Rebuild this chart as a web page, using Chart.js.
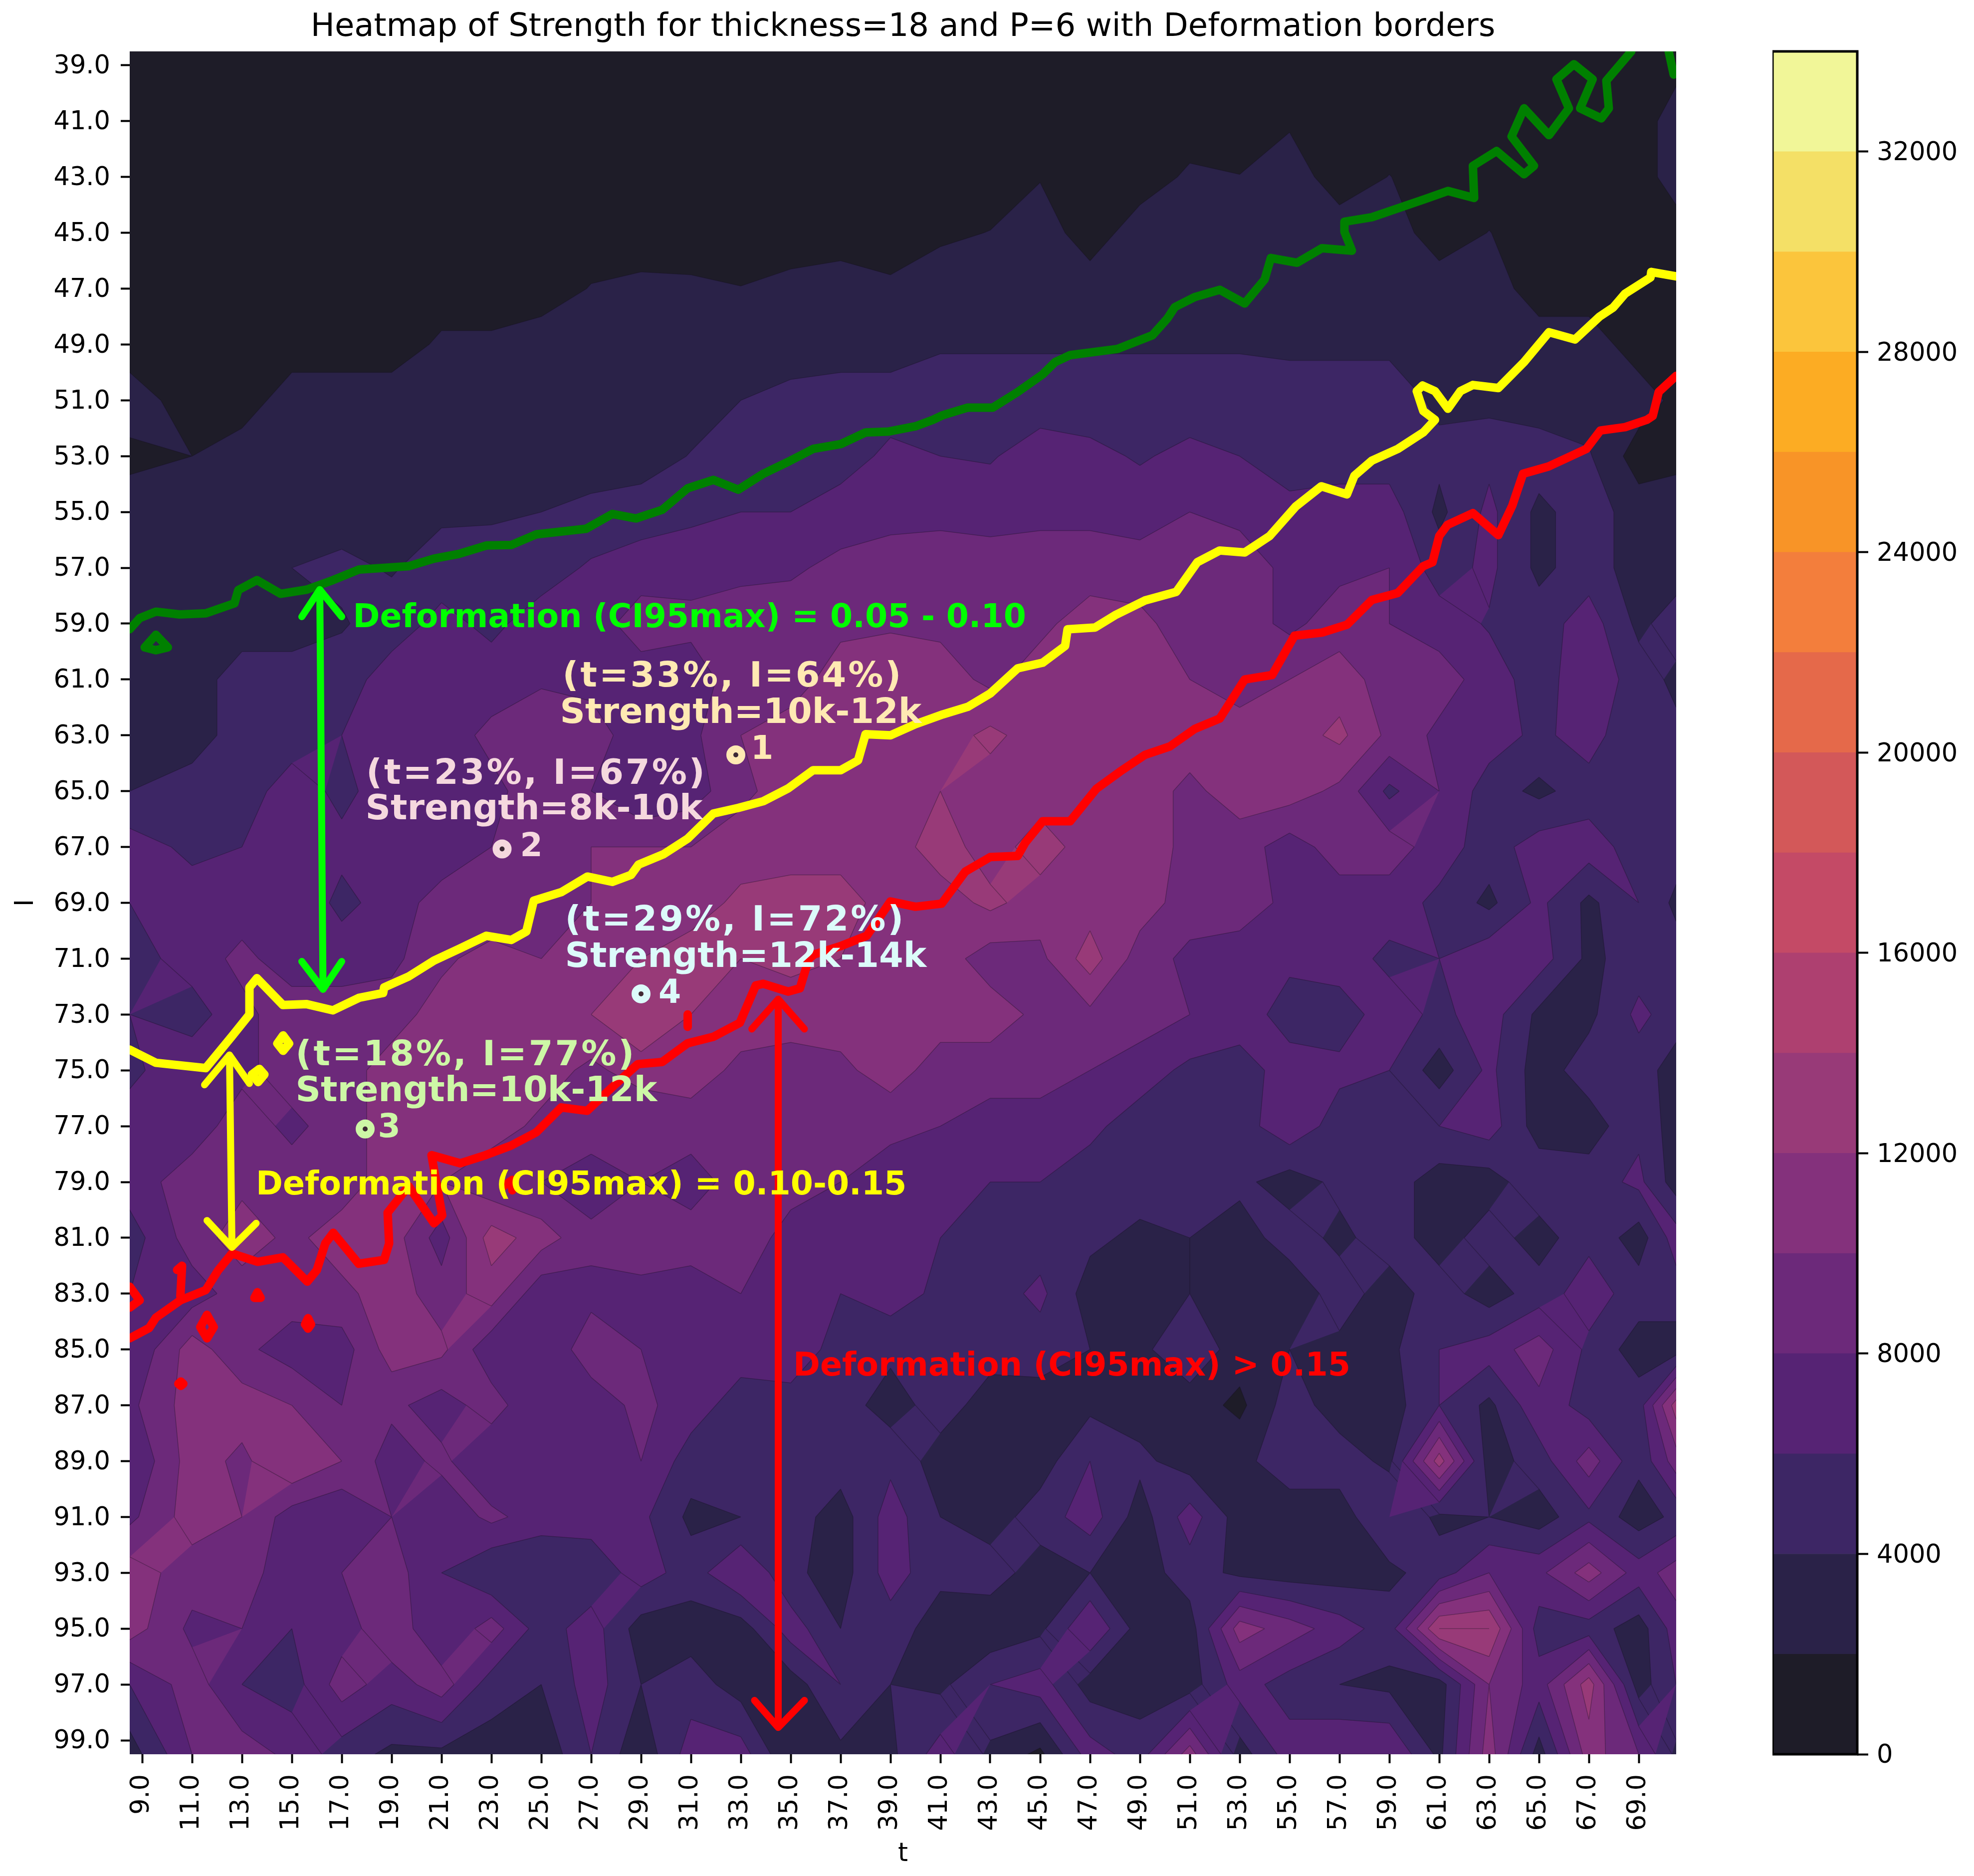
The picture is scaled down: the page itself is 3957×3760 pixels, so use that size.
<!DOCTYPE html>
<html lang="en">
<head>
  <meta charset="UTF-8" />
  <title>Heatmap of Strength</title>
  <script src="https://cdn.jsdelivr.net/npm/chart.js"></script>
  <style>
    html, body { margin: 0; background: #fff; }
    #wrap { position: relative; width: 3957px; height: 3760px; overflow: hidden; }
    canvas { position: absolute; top: 0; }
    #heat { left: 0; }
    #bar { left: 3553px; }
  </style>
</head>
<body>
  <div id="wrap">
    <canvas id="heat" width="3957" height="3760"></canvas>
    <canvas id="bar" width="404" height="3760"></canvas>
  </div>

  <script>
    // grid nodes, strength in thousands
    const tNodes = [8.5, 11, 13, 15, 17, 19, 21, 23, 25, 27, 29, 31, 33, 35, 37, 39, 41, 43, 45, 47, 49, 51, 53, 55, 57, 59, 61, 63, 65, 67, 69, 70.5];
    const iNodes = [38.5, 41, 43, 45, 47, 49, 51, 53, 55, 57, 59, 61, 63, 65, 67, 69, 71, 73, 75, 77, 79, 81, 83, 85, 87, 89, 91, 93, 95, 97, 99.5];

    const row39 = [1,1,1,1,1,1,1,1,1,1,1,1,1,1,1,1,1,1,1,1,1,1,1,1,1,1,1,1,1,1,1,1];
    const row41 = [1,1,1,1,1,1,1,1,1,1,1,1,1,1,1,1,1,1,1,1,1,1,1,1.75,1,1,1,1,1,1,1,3];
    const row43 = [1,1,1,1,1,1,1,1,1,1,1,1,1,1,1,1,1,1,1.89,1,1,2.33,2.05,3,1,2.05,1,1,1,1,1,3];
    const row45 = [1,1,1,1,1,1,1,1,1,1,1,1,1,1,1,1,1.67,2.05,3,1,3,3,3,3,3,3,1,2.05,1,1,1,1];
    const row47 = [1,1,1,1,1,1,1,1,1,2.1,2.43,2.33,2.05,2.54,3,2.33,3,3,3,3,3,3,3,3,3,3,3,3,1,1,1,1];
    const row49 = [1,1,1,1,1,1,2.33,2.33,3,3,3,3,3,3,3,3,3.8,3.8,3.8,3.8,3.8,3.8,3.8,3.6,3.6,3.6,3.6,3,3,3,1,1];
    const row51 = [3,1,1,3,3,3,3,3,3,3,3,3,4,4.6,5,5,5,5,5,5,5,5,5,5,5,5,3.6,3.3,3,3,3,1.5];
    const row53 = [1.5,2,3,2,3,3,3,3,3,3,3,4.1,5,5,5,6.5,6,5.8,7,6.5,5.8,6.5,6,5,5,5,4.5,5.5,5,4.2,1,1.5];
    const row55 = [3,3,3,3,3,3,3.6,3.7,4,4.5,5,5.5,6,6,7,7.3,7.5,7.2,7.5,7.5,7,8,7.5,6.6,7,7,3.5,6.5,3.5,5,3,3];
    const row57 = [3,3,3,4,4.5,3.8,5,5,5,6.3,7,7.3,7.5,7.7,8.5,9,9,9,9,9,9,8.2,9,7.5,7.5,8,5,6.5,3.5,5,3,3];
    const row59 = [3,3,3,3,3.8,5,6.6,5.5,7,7,9,8.5,9,9,9.5,9.8,9.5,9,9.5,11,10.5,9,9,7.5,9,8,7,5.8,5,7,3.5,5];
    const row61 = [3,3,5,5,5,7,7,7,7.8,7.5,7,7,9,9,11,11,11,9.5,11,11,11,10,9,10,11,9,9,7,5,7.5,5,3.5];
    const row63 = [3,3,5,5,6,6,7,8.5,9,8.8,7,7.5,10,11,11,11,11,12.5,11,11,11,11,11,11,12.5,9.5,7.5,7,5.5,7,4,4.5];
    const row65 = [4,5,5,7,5.5,7,7,7.5,9,8,6,7,9.5,11,11,11,12,11,11,11,11,9.5,11,11,9.5,5.5,8,5,3.5,5,5,5];
    const row67 = [7,5.5,6,7,6.5,7.5,6.5,8,9,10,10,10,11,11,11,11,13,11,13,11,11,9.5,9,7,9,9,7,5,7,7,5,5];
    const row69 = [6,7,7,7.5,5.5,6.8,9,8,9,10,11,11,12.5,13,13,11,11,12.5,11,11,11,9,9,7.5,7,7,5.5,3.5,6.5,3.5,6,3.5];
    const row71 = [5,7,8.5,7,7,7.5,9.5,11,10,11,12,13,12,12.5,12,11,11,9,9.5,13,9,7.5,7,6.5,7,5.5,6,7.5,7,3.5,5,5];
    const row73 = [6,5,7.5,9,9,9,11,11,11,12,14,12,11,11,11,11,11,11,9.5,9.5,9,8,7.2,5,5,7,5.5,7,3.5,3.5,6.5,5];
    const row75 = [5.5,7.5,7.5,9,9,11,10,11,11,9.5,11,11,9.5,9,9.5,11,9,9,9,8,7,5.5,5,7,6.5,6,3,6.5,3,5,5,3];
    const row77 = [7,7,9,7.5,9,11,11,11,9.5,9,8,9,9,9,9,8.5,8,7,7,6.5,5,5,5,7.5,5,5,6,7,3,3,5.5,3];
    const row79 = [7,9,9.5,9,9,11,10,8.5,8,7,8,7,9,9,8,7,7,6,6,5,5,5,4.5,3,4.5,5,3,3,5.5,5,6.5,3];
    const row81 = [5,9,11,9.5,11,11,7,13,11,8.5,10,9,9.5,7,7.5,6,6,5,5,4.5,3.5,4,3,5,3.5,5,3,5,3,5.5,3,7];
    const row83 = [6,7,9,9,9.5,11,9,11,6.5,7.5,7,7,8,7,6,7,5.5,5,6.5,3,3,4,3,2.5,5,3,5,3,5,7,5,5];
    const row85 = [6,11,8.5,7,7,11,10.5,6.5,6.5,9,8,6,7,7.5,5,4.5,5,4.8,5,4,3.5,5.5,3,4,3.5,3.5,6,7,9,5.5,3,3];
    const row87 = [7.5,11,11,10,8,8.5,7,9,6,7,8.5,7,5,5,5,3,5,3,3,3.5,3,3,1.5,5,3,3,6,3.5,7.5,5,5,13];
    const row89 = [6,11,9.5,12,10,7,8.5,6,6,7,8,5,5,5,5,5.5,3,3,3,6,4.5,3,3.5,5,5,3.5,13,3,5,9,4.5,9];
    const row91 = [7.5,11,10,7,6,8,6.5,8.5,7,7,6.5,3.5,4,5,3,7,4,3,5,7,3,7,3,3,3,6,3.5,4,3,5.5,3,4.5];
    const row93 = [11,9,9.5,6,8,9,6,4,4,4.5,7,5,8,4.5,3,7,4.5,5,3,4,3,5,3.5,3,3,3.5,5,8,7.5,11,7,9];
    const row95 = [11,7.5,8,6,7,9.5,6,9,5,7,3,3,3,7,4,5,3,2.5,3.5,8,3,3,11,9,7,5,14,14,5,5,3,7];
    const row97 = [6,9,6,5,9,7,9,5,4,7,4,5,3,3,6,4,3.5,6,7,3,3,3,7,5,4,3.5,3,10,7,13,3,6];
    const row99 = [3,8,9,7.5,5,3.5,3.5,3,2.5,6,2.5,7,7,2,3.5,3.5,7,3.5,1.5,7,5,11,3,7,8,8,3.5,11,3,11,8,3.5];
    const strengthRows = [row39, row41, row43, row45, row47, row49, row51, row53, row55, row57, row59, row61, row63, row65, row67, row69, row71, row73, row75, row77, row79, row81, row83, row85, row87, row89, row91, row93, row95, row97, row99];

    const levels = [0, 2, 4, 6, 8, 10, 12, 14, 16, 18, 20, 22, 24, 26, 28, 30, 32, 34];
    const bandColors = ['#1e1c28', '#2a2248', '#3d2665', '#562374', '#6c297a', '#84317c', '#983a78', '#ae4070', '#c44a66', '#d35859', '#e5694a', '#f37e3c', '#f89427', '#fcac23', '#fbc53c', '#f4e066', '#f1f698'];

    const tTicks = [9, 11, 13, 15, 17, 19, 21, 23, 25, 27, 29, 31, 33, 35, 37, 39, 41, 43, 45, 47, 49, 51, 53, 55, 57, 59, 61, 63, 65, 67, 69];
    const iTicks = [39, 41, 43, 45, 47, 49, 51, 53, 55, 57, 59, 61, 63, 65, 67, 69, 71, 73, 75, 77, 79, 81, 83, 85, 87, 89, 91, 93, 95, 97, 99];
    const barTicks = [0, 4000, 8000, 12000, 16000, 20000, 24000, 28000, 32000];

    // deformation borders
    const greenT = [8.5,8.9,9.55,10.5,11.55,12.7,12.85,13.6,14.55,15.6,16.65,17.7,19.7,20.7,21.7,22.8,23.8,24.8,26.8,27.85,28.8,29.85,30.87,31.9,32.9,33.9,34.9,35.9,37,38,38.9,40,40.7,41.1,42.1,43.1,44.1,45.1,45.6,46.2,48.1,49.5,50.1,50.4,51.2,52.2,53.2,54,54.25,55.3,56.3,57.5,57.2,57.2,58.3,60.4,61.35,62.4,62.35,63.3,64,64.4,64.8,63.9,64.4,65.4,66.2,65.7,66.4,67.15,66.65,67.5,67.8,67.7,68.7];
    const greenI = [59.2,58.8,58.57,58.67,58.63,58.27,57.8,57.44,57.93,57.78,57.44,57.06,56.94,56.67,56.5,56.2,56.18,55.8,55.6,55.07,55.23,54.92,54.15,53.85,54.2,53.63,53.2,52.74,52.57,52.15,52.12,51.93,51.7,51.53,51.26,51.26,50.7,50.07,49.63,49.38,49.16,48.67,48.07,47.66,47.3,47.04,47.53,46.67,45.9,46.07,45.55,45.64,44.96,44.6,44.44,43.8,43.5,43.75,42.6,42.07,42.6,42.9,42.6,41.55,40.54,41.5,40.54,39.5,38.96,39.5,40.54,40.9,40.54,39.55,38.5];
    const greenCornerT = [70.2, 70.4];
    const greenCornerI = [38.5, 39.33];
    const greenLoopT = [9.55, 9.1, 9.55, 10.03, 9.55];
    const greenLoopI = [59.4, 59.85, 59.95, 59.85, 59.4];

    const yellowT = [8.5,9.55,11.55,12.6,13.3,13.3,13.6,14.64,15.6,16.65,17.7,18.66,18.7,19.7,20.7,21.75,22.8,23.8,24.4,24.7,25.8,26.85,27.85,28.6,28.9,29.9,30.87,31.9,32.9,33.9,34.9,35.9,37,37.7,38,39,40,41.1,42.1,43,44.1,45.1,46,46.1,47.2,48,49.2,50.46,51.3,52.2,53.2,54.2,55.25,56.27,57.3,57.6,58.3,59.34,60.36,60.83,60.36,60.1,60.33,60.83,61.35,61.85,62.35,63.37,64.4,65.4,66.44,67.43,67.98,68.45,69.47,69.5,70.5];
    const yellowI = [74.26,74.73,74.92,73.78,73,72.03,71.7,72.66,72.63,72.85,72.4,72.23,72.03,71.63,71.07,70.63,70.18,70.33,70.03,68.92,68.62,68.06,68.25,68,67.63,67.26,66.7,65.8,65.6,65.36,64.9,64.25,64.25,63.9,62.96,63,62.6,62.25,61.98,61.5,60.6,60.4,59.8,59.2,59.14,58.7,58.17,57.86,56.8,56.38,56.45,55.86,54.8,54.08,54.37,53.7,53.16,52.74,52.15,51.7,51.38,50.67,50.47,50.67,51.3,50.67,50.45,50.56,49.63,48.56,48.82,48,47.67,47.18,46.6,46.4,46.56];
    const yellowSpotAT = [14.65, 14.89, 14.65, 14.42, 14.65];
    const yellowSpotAI = [73.75, 74.04, 74.3, 74.04, 73.75];
    const yellowSpotBT = [13.7, 13.9, 13.65, 13.4, 13.7];
    const yellowSpotBI = [74.95, 75.15, 75.42, 75.15, 74.95];

    const redT = [8.5,9.28,9.55,10.53,11.55,12.05,12.6,13.62,14.64,15.62,16,16.34,16.66,17.68,18.7,18.9,18.84,19.68,20.7,21.03,20.6,21.75,22.76,23.78,24.8,25.8,26.84,27.85,28.87,29.85,30.87,31.9,32.96,33.6,33.9,34.9,35.37,35.73,35.94,37,38.05,39,40,41.05,42,43,44.1,44.4,45.1,46.2,47.25,48.2,49.2,50.2,51.2,52.2,53.2,54.3,55.2,56.3,57.3,58.3,59.34,60.36,60.73,61,61.33,62.35,63.37,63.93,64.36,65.38,66.9,67.46,68.45,69.32,69.56,69.8,70.5];
    const redI = [84.6,84.23,83.86,83.24,82.87,82.16,81.56,81.86,81.7,82.57,82.16,81.2,80.82,81.93,81.79,81.2,80.1,79.15,80.48,80.2,78.04,78.33,78.04,77.7,77.22,76.33,76.45,75.6,74.78,74.7,74.03,73.8,73.3,71.96,71.9,72.18,72.06,71,70.85,70.55,70.18,68.95,69.14,69.03,67.88,67.36,67.32,66.85,66.08,66.08,64.92,64.3,63.7,63.4,62.77,62.4,61,60.84,59.43,59.32,59.04,58.15,57.9,56.94,56.8,55.86,55.46,55.04,55.83,54.77,53.63,53.37,52.74,52.08,51.96,51.7,51.56,50.7,50.12];
    const redBitsT = [[30.87, 30.87], [23.48, 23.84, 23.84], [10.4, 10.6, 10.53], [8.5, 8.9, 8.5], [11.6, 11.87, 11.6, 11.33, 11.6], [13.62, 13.75, 13.5, 13.62], [15.65, 15.77, 15.65, 15.53, 15.65], [10.55, 10.65, 10.55, 10.45, 10.55]];
    const redBitsI = [[73, 73.44], [79.15, 78.93, 79.3], [82.15, 82, 83.1], [82.75, 83.24, 83.5], [83.76, 84.2, 84.6, 84.2, 83.76], [82.95, 83.15, 83.15, 82.95], [83.88, 84.1, 84.25, 84.1, 83.88], [86.15, 86.23, 86.3, 86.23, 86.15]];

    // double headed arrows
    const greenArrowT = [15.4, 16.12, 17, 16.12, 16.25, 15.4, 16.25, 17];
    const greenArrowI = [58.75, 57.78, 58.75, 57.78, 72.1, 71.1, 72.1, 71.1];
    const yellowArrowT = [11.5, 12.5, 13.3, 12.5, 12.6, 11.6, 12.6, 13.57];
    const yellowArrowI = [75.52, 74.45, 75.47, 74.45, 81.34, 80.38, 81.34, 80.48];
    const redArrowT = [33.44, 34.5, 35.55, 34.5, 34.5, 33.55, 34.5, 35.55];
    const redArrowI = [73.52, 72.45, 73.52, 72.45, 98.54, 97.57, 98.54, 97.57];

    // marked specimens
    const spotT = [32.8, 23.43, 17.94, 29];
    const spotI = [63.7, 67.07, 77.1, 72.26];
    const spotColors = ['#ffe9b3', '#f5d8de', '#cdf7a6', '#dcfbfa'];

    const noteTexts = ['Deformation (CI95max) = 0.05 - 0.10', '(t=33%, I=64%)', 'Strength=10k-12k', '1', '(t=23%, I=67%)', 'Strength=8k-10k', '2', '(t=29%, I=72%)', 'Strength=12k-14k', '4', '(t=18%, I=77%)', 'Strength=10k-12k', '3', 'Deformation (CI95max) = 0.10-0.15', 'Deformation (CI95max) > 0.15'];
    const noteT = [17.45, 25.85, 25.75, 33.4, 17.98, 17.95, 24.15, 25.95, 25.95, 29.7, 15.15, 15.15, 18.45, 13.56, 35.1];
    const noteI = [59.12, 61.26, 62.55, 63.85, 64.73, 66, 67.32, 70, 71.3, 72.58, 74.82, 76.1, 77.4, 79.45, 85.94];
    const noteColors = ['#00ff00', '#ffe9b3', '#ffe9b3', '#ffe9b3', '#f5d8de', '#f5d8de', '#f5d8de', '#dcfbfa', '#dcfbfa', '#dcfbfa', '#cdf7a6', '#cdf7a6', '#cdf7a6', '#ffff00', '#ff0000'];
    const noteSizes = [65, 70, 70, 65, 70, 70, 65, 70, 70, 65, 70, 70, 65, 65, 65];
    const noteSpacing = [0, 4, 0, 0, 4, 0, 0, 4, 0, 0, 4, 0, 0, 0, 0];

    Chart.defaults.font.family = '"DejaVu Sans"';
    Chart.defaults.color = '#000';

    function xy(ts, is) {
      return ts.map((t, k) => ({ x: t, y: is[k] }));
    }

    function borderLine(ts, is, color, width) {
      return {
        data: xy(ts, is),
        showLine: true,
        borderColor: color,
        borderWidth: width,
        borderCapStyle: 'round',
        borderJoinStyle: 'round',
        pointRadius: 0,
        tension: 0,
        clip: 0
      };
    }

    // keep the part of a cell where strength >= level
    function clipCell(nodes, level) {
      const out = [];
      nodes.forEach((a, k) => {
        const b = nodes[(k + 1) % nodes.length];
        if (a.v >= level) out.push(a);
        if ((a.v >= level) !== (b.v >= level)) {
          const f = (level - a.v) / (b.v - a.v);
          out.push({ x: a.x + (b.x - a.x) * f, y: a.y + (b.y - a.y) * f, v: level });
        }
      });
      return out;
    }

    function crossings(nodes, level) {
      const pts = [];
      nodes.forEach((a, k) => {
        const b = nodes[(k + 1) % nodes.length];
        if ((a.v >= level) !== (b.v >= level)) {
          const f = (level - a.v) / (b.v - a.v);
          pts.push([a.x + (b.x - a.x) * f, a.y + (b.y - a.y) * f]);
        }
      });
      return pts;
    }

    const contourPlugin = {
      id: 'contour',
      beforeDatasetsDraw(chart) {
        const { ctx, chartArea, scales } = chart;
        const px = tNodes.map(t => scales.x.getPixelForValue(t));
        const py = iNodes.map(i => scales.y.getPixelForValue(i));
        ctx.save();
        ctx.beginPath();
        ctx.rect(chartArea.left, chartArea.top, chartArea.width, chartArea.height);
        ctx.clip();
        bandColors.forEach((color, b) => {
          const fill = new Path2D();
          const edge = new Path2D();
          for (let r = 0; r < iNodes.length - 1; r++) {
            for (let c = 0; c < tNodes.length - 1; c++) {
              const nodes = [
                { x: px[c], y: py[r], v: strengthRows[r][c] },
                { x: px[c + 1], y: py[r], v: strengthRows[r][c + 1] },
                { x: px[c + 1], y: py[r + 1], v: strengthRows[r + 1][c + 1] },
                { x: px[c], y: py[r + 1], v: strengthRows[r + 1][c] }
              ];
              const poly = clipCell(nodes, levels[b]);
              if (poly.length < 3) continue;
              poly.forEach((p, k) => (k ? fill.lineTo(p.x, p.y) : fill.moveTo(p.x, p.y)));
              fill.closePath();
              const cross = crossings(nodes, levels[b]);
              for (let k = 0; k + 1 < cross.length; k += 2) {
                edge.moveTo(cross[k][0], cross[k][1]);
                edge.lineTo(cross[k + 1][0], cross[k + 1][1]);
              }
            }
          }
          ctx.fillStyle = color;
          ctx.fill(fill);
          ctx.strokeStyle = 'rgba(20,15,30,0.35)';
          ctx.lineWidth = 1.5;
          ctx.stroke(edge);
        });
        ctx.restore();
      }
    };

    const notesPlugin = {
      id: 'notes',
      afterDatasetsDraw(chart) {
        const { ctx, scales } = chart;
        ctx.save();
        ctx.textAlign = 'left';
        ctx.textBaseline = 'alphabetic';
        noteTexts.forEach((text, k) => {
          ctx.font = 'bold ' + noteSizes[k] + 'px "DejaVu Sans"';
          ctx.letterSpacing = noteSpacing[k] + 'px';
          ctx.fillStyle = noteColors[k];
          ctx.fillText(text, scales.x.getPixelForValue(noteT[k]), scales.y.getPixelForValue(noteI[k]));
        });
        ctx.restore();
      }
    };

    // first dataset ends up on top
    const heatDatasets = [];
    spotT.forEach((t, k) => {
      heatDatasets.push({
        data: [{ x: t, y: spotI[k] }],
        pointRadius: 12,
        pointBackgroundColor: 'rgba(50,40,40,0.85)',
        pointBorderColor: spotColors[k],
        pointBorderWidth: 14
      });
    });
    heatDatasets.push(borderLine(greenArrowT, greenArrowI, '#00ff00', 14));
    heatDatasets.push(borderLine(yellowArrowT, yellowArrowI, '#ffff00', 14));
    heatDatasets.push(borderLine(redArrowT, redArrowI, '#ff0000', 14));
    heatDatasets.push(borderLine(greenT, greenI, '#008000', 17));
    heatDatasets.push(borderLine(greenCornerT, greenCornerI, '#008000', 17));
    heatDatasets.push(borderLine(greenLoopT, greenLoopI, '#008000', 17));
    heatDatasets.push(borderLine(yellowT, yellowI, '#ffff00', 17));
    heatDatasets.push(borderLine(yellowSpotAT, yellowSpotAI, '#ffff00', 17));
    heatDatasets.push(borderLine(yellowSpotBT, yellowSpotBI, '#ffff00', 17));
    heatDatasets.push(borderLine(redT, redI, '#ff0000', 17));
    redBitsT.forEach((ts, k) => heatDatasets.push(borderLine(ts, redBitsI[k], '#ff0000', 17)));

    new Chart(document.getElementById('heat'), {
      type: 'scatter',
      data: { datasets: heatDatasets },
      plugins: [contourPlugin, notesPlugin],
      options: {
        responsive: false,
        animation: false,
        devicePixelRatio: 1,
        layout: { padding: { right: 597 } },
        plugins: {
          legend: { display: false },
          tooltip: { enabled: false },
          title: {
            display: true,
            fullSize: false,
            text: 'Heatmap of Strength for thickness=18 and P=6 with Deformation borders',
            color: '#000',
            font: { size: 64, weight: 'normal' },
            padding: { top: 17, bottom: 9.2 }
          }
        },
        scales: {
          x: {
            type: 'linear',
            min: 8.5,
            max: 70.5,
            afterBuildTicks: axis => { axis.ticks = tTicks.map(value => ({ value })); },
            afterFit: axis => { axis.height = 244; },
            grid: { drawOnChartArea: false, tickLength: 18, tickWidth: 4, tickColor: '#000' },
            border: { display: false },
            ticks: {
              autoSkip: false,
              minRotation: 90,
              maxRotation: 90,
              padding: 22,
              font: { size: 51 },
              callback: v => v.toFixed(1)
            },
            title: { display: true, text: 't', font: { size: 51 }, padding: { top: 0, bottom: 13 } }
          },
          y: {
            type: 'linear',
            reverse: true,
            min: 38.5,
            max: 99.5,
            afterBuildTicks: axis => { axis.ticks = iTicks.map(value => ({ value })); },
            afterFit: axis => { axis.width = 260; },
            grid: { drawOnChartArea: false, tickLength: 18, tickWidth: 4, tickColor: '#000' },
            border: { display: false },
            ticks: {
              autoSkip: false,
              padding: 21,
              labelOffset: 3,
              font: { size: 51 },
              callback: v => v.toFixed(1)
            },
            title: { display: true, text: 'I', font: { size: 51 }, padding: { top: 22, bottom: 0 } }
          }
        }
      }
    });

    // colour bar
    const barFrame = {
      id: 'barFrame',
      afterDraw(chart) {
        const { ctx, chartArea } = chart;
        ctx.save();
        ctx.strokeStyle = '#000';
        ctx.lineWidth = 5;
        ctx.strokeRect(chartArea.left, chartArea.top, chartArea.width, chartArea.height);
        ctx.restore();
      }
    };

    new Chart(document.getElementById('bar'), {
      type: 'bar',
      data: {
        labels: [''],
        datasets: bandColors.map((color, b) => ({
          data: [(levels[b + 1] - levels[b]) * 1000],
          backgroundColor: color,
          barPercentage: 1,
          categoryPercentage: 1
        }))
      },
      plugins: [barFrame],
      options: {
        responsive: false,
        animation: false,
        devicePixelRatio: 1,
        layout: { padding: { top: 103, bottom: 244 } },
        plugins: { legend: { display: false }, tooltip: { enabled: false } },
        scales: {
          x: { stacked: true, display: false },
          y: {
            stacked: true,
            position: 'right',
            min: 0,
            max: 34000,
            afterBuildTicks: axis => { axis.ticks = barTicks.map(value => ({ value })); },
            afterFit: axis => { axis.width = 234; },
            grid: { drawOnChartArea: false, tickLength: 22, tickWidth: 4, tickColor: '#000' },
            border: { display: false },
            ticks: {
              padding: 17,
              labelOffset: 4,
              font: { size: 51 },
              callback: v => String(v)
            }
          }
        }
      }
    });
  </script>
</body>
</html>
